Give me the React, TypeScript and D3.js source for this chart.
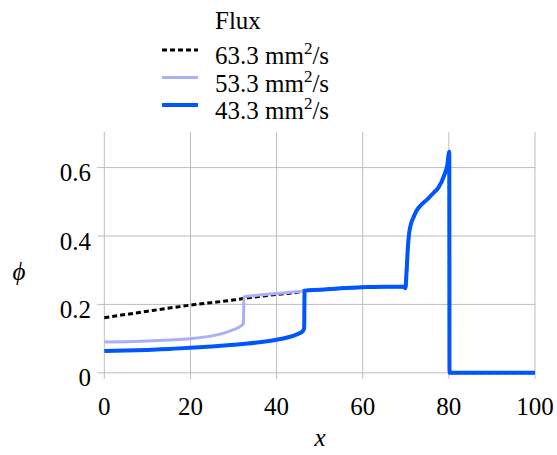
import React from 'react';
import * as d3 from 'd3';

// tick values
const xTicks = [0, 20, 40, 60, 80, 100];
const yTicks = [0, 0.2, 0.4, 0.6];

// common part of the profiles after the second front (hidden under the 43.3 curve)
const xShared = [50, 55, 60, 65, 68, 69.5, 69.9, 70.2, 70.5, 70.8, 71.2, 71.8, 72.5, 73.5, 75, 76.5, 77.5, 79, 79.6, 80.1, 80.15, 100];
const phiShared = [0.243, 0.247, 0.25, 0.252, 0.252, 0.252, 0.247, 0.3, 0.37, 0.41, 0.435, 0.455, 0.474, 0.49, 0.507, 0.527, 0.54, 0.58, 0.605, 0.646, 0, 0];

// 63.3 mm2/s
const xFlux63 = [0, 10, 20, 30, 35, 40, 45, 46.5];
const phiFlux63 = [0.161, 0.18, 0.198, 0.213, 0.222, 0.229, 0.236, 0.24];

// 53.3 mm2/s
const xFlux53 = [0, 5, 10, 15, 20, 25, 28, 30, 31.5, 32.3, 32.4, 35, 40, 46, 46.5];
const phiFlux53 = [0.09, 0.091, 0.093, 0.096, 0.1, 0.108, 0.117, 0.126, 0.135, 0.144, 0.222, 0.226, 0.232, 0.239, 0.24];

// 43.3 mm2/s
const xFlux43 = [0, 5, 10, 15, 20, 25, 30, 35, 40, 42, 44, 45, 46, 46.4, 46.5];
const phiFlux43 = [0.064, 0.065, 0.067, 0.07, 0.073, 0.077, 0.082, 0.088, 0.097, 0.102, 0.109, 0.114, 0.121, 0.13, 0.24];

const seriesNames = ['63.3', '53.3', '43.3'];

const W = 557, H = 455;
const font = "'Liberation Serif', 'DejaVu Serif', serif";

export default function App() {
  const x = d3.scaleLinear().domain([0, 100]).range([104.3, 535]);
  const y = d3.scaleLinear().domain([-0.018, 0.704]).range([379, 132]);

  const line = d3.line<[number, number]>()
    .x(d => x(d[0]))
    .y(d => y(d[1]))
    .curve(d3.curveMonotoneX);

  const build = (xs: number[], ps: number[]) =>
    xs.map((v, i) => [v, ps[i]] as [number, number])
      .concat(xShared.map((v, i) => [v, phiShared[i]] as [number, number]));

  const series = [
    { name: seriesNames[0], pts: build(xFlux63, phiFlux63), color: '#000', width: 3, dash: '5,3' },
    { name: seriesNames[1], pts: build(xFlux53, phiFlux53), color: '#aab0f5', width: 3, dash: undefined },
    { name: seriesNames[2], pts: build(xFlux43, phiFlux43), color: '#0055ff', width: 4, dash: undefined },
  ];

  const grid = '#bdbdbd';
  const ts = { fontFamily: font, fontSize: 25 };

  return (
    <svg width={W} height={H} style={{ position: 'absolute', left: 0, top: 0, background: '#fff' }}>
      {/* grid */}
      {xTicks.map(t => (
        <line key={'gx' + t} x1={x(t)} x2={x(t)} y1={y(0.704)} y2={y(-0.018)} stroke={grid} strokeWidth={1} />
      ))}
      {yTicks.map(t => (
        <line key={'gy' + t} x1={x(0) - 7} x2={x(100)} y1={y(t)} y2={y(t)} stroke={grid} strokeWidth={1} />
      ))}

      {/* tick labels */}
      {xTicks.map(t => (
        <text key={'lx' + t} x={x(t)} y={415} style={ts} textAnchor="middle">{t}</text>
      ))}
      {yTicks.map(t => (
        <text key={'ly' + t} x={91} y={y(t) + 13.5} style={ts} textAnchor="end">{t === 0 ? '0' : d3.format('.1f')(t)}</text>
      ))}

      {/* axis labels */}
      <text x={320} y={446} style={{ ...ts, fontStyle: 'italic' }} textAnchor="middle">x</text>
      <text x={19} y={280} style={{ ...ts, fontStyle: 'italic' }} textAnchor="middle">ϕ</text>

      {/* curves */}
      {series.map(s => (
        <path key={s.name} d={line(s.pts) || ''} fill="none" stroke={s.color} strokeWidth={s.width}
          strokeDasharray={s.dash} strokeLinejoin="miter" />
      ))}

      {/* legend */}
      <text x={215} y={28.5} style={ts}>Flux</text>
      {series.map((s, i) => {
        const ly = 50 + i * 27.5;
        return (
          <g key={'leg' + s.name}>
            <line x1={162} x2={198} y1={ly} y2={ly} stroke={s.color} strokeWidth={s.width} strokeDasharray={s.dash} />
            <text x={215} y={ly + 14} style={ts}>
              {s.name} mm<tspan fontSize={17} dy={-10}>2</tspan><tspan dy={10}>/s</tspan>
            </text>
          </g>
        );
      })}
    </svg>
  );
}
